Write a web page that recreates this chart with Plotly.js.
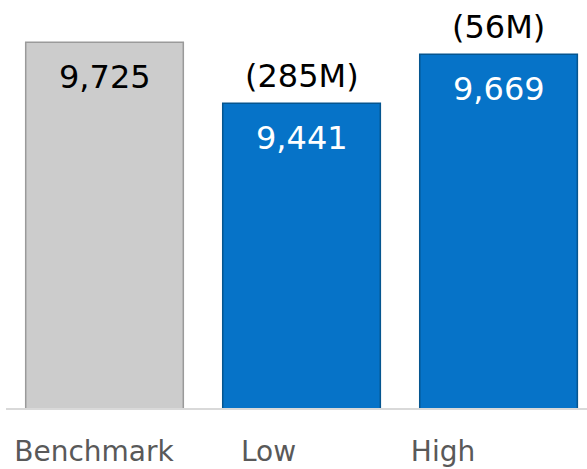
<!DOCTYPE html>
<html><head><meta charset="utf-8">
<script src="https://cdn.plot.ly/plotly-3.0.1.min.js"></script>
<style>html,body{margin:0;padding:0;background:#fff;}#c{width:587px;height:469px;}</style>
</head><body><div id="c"></div>
<script>
const categories = ['Benchmark', 'Low', 'High'];
const values = [9725, 9441, 9669];
const valueLabels = ['9,725', '9,441', '9,669'];
const subLabels = ['', '(285M)', '(56M)'];
const barColors = ['#CCCCCC', '#0673C8', '#0673C8'];
const edgeColors = ['#9A9A9A', '#05558F', '#05558F'];
const valueTextColors = ['#000000', '#FFFFFF', '#FFFFFF'];

const font = 'DejaVu Sans, Verdana, sans-serif';

const bars = {
  type: 'bar', x: categories, y: values,
  width: 0.80,
  marker: {color: barColors, line: {color: edgeColors, width: 1.5}},
  hoverinfo: 'none', showlegend: false
};
const labelAxisTrace = {
  type: 'scatter', x: categories, y: values, mode: 'none',
  xaxis: 'x2', yaxis: 'y', hoverinfo: 'none', showlegend: false
};

const annotations = [];
categories.forEach((c, i) => {
  annotations.push({x: c, y: values[i], xref: 'x', yref: 'y', text: valueLabels[i],
    showarrow: false, yanchor: 'top', yshift: -14,
    font: {family: font, size: 32, color: valueTextColors[i]}});
  if (subLabels[i]) annotations.push({x: c, y: values[i], xref: 'x', yref: 'y', text: subLabels[i],
    showarrow: false, yanchor: 'bottom', yshift: 6,
    font: {family: font, size: 32, color: '#000000'}});
});

const layout = {
  width: 587, height: 469,
  margin: {l: 6, r: 0, t: 0, b: 60.5},
  paper_bgcolor: '#FFFFFF', plot_bgcolor: '#FFFFFF',
  xaxis: {type: 'category', range: [-0.5, 2.449], showticklabels: false, ticks: '',
    showline: true, linecolor: '#D9D9D9', linewidth: 2, showgrid: false, zeroline: false, fixedrange: true},
  xaxis2: {type: 'category', overlaying: 'x', side: 'bottom', range: [-0.504, 2.825],
    showline: false, showgrid: false, zeroline: false, ticks: '',
    tickfont: {family: font, size: 28, color: '#595959'}, ticklabelstandoff: 24},
  yaxis: {range: [8020, 9922], visible: false, showgrid: false, zeroline: false},
  annotations: annotations,
  showlegend: false
};
Plotly.newPlot('c', [bars, labelAxisTrace], layout, {displayModeBar: false, staticPlot: true});
</script></body></html>
